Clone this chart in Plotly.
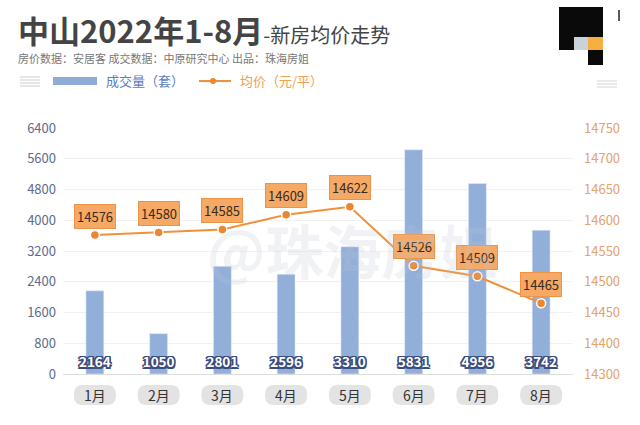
import plotly.graph_objects as go

months = ["1月", "2月", "3月", "4月", "5月", "6月", "7月", "8月"]
volume = [2164, 1050, 2801, 2596, 3310, 5831, 4956, 3742]
price = [14576, 14580, 14585, 14609, 14622, 14526, 14509, 14465]

left_ticks = [0, 800, 1600, 2400, 3200, 4000, 4800, 5600, 6400]
right_tickvals = [14350, 14400, 14450, 14500, 14550, 14600, 14650, 14700, 14750]
right_ticktext = ["14300", "14400", "14450", "14500", "14550", "14600", "14650", "14700", "14750"]

FONT = "Noto Sans CJK SC"
W, H = 640, 425
L, R, T, B = 63, 67, 128, 51
PW, PH = W - L - R, H - T - B


def px(x):
    return (x - L) / PW


def py(y):
    return (H - B - y) / PH


navy = "#3b4c7e"
offs = [(-1.5, -1.5), (-1.5, 0), (-1.5, 1.5), (0, -1.5), (0, 1.5), (1.5, -1.5), (1.5, 0), (1.5, 1.5)]
shadow = ", ".join(f"{dx}px {dy}px 0 {navy}" for dx, dy in offs)

fig = go.Figure()
fig.add_trace(go.Bar(
    x=months, y=volume, marker_color="#91afd9", width=0.28,
    text=[str(v) for v in volume], textposition="inside", insidetextanchor="start",
    textangle=0, constraintext="none",
    textfont=dict(family=FONT, size=13.5, color="white", weight="bold", shadow=shadow),
    cliponaxis=False, hoverinfo="skip", showlegend=False,
))
fig.add_trace(go.Scatter(
    x=months, y=price, yaxis="y2", mode="lines+markers",
    line=dict(color="#f0913a", width=2),
    marker=dict(size=9, color="#ee8530", line=dict(color="white", width=1.5)),
    showlegend=False, cliponaxis=False,
))

shapes = []


def prect(x0, y0, x1, y1, color):
    shapes.append(dict(type="rect", xref="paper", yref="paper", x0=px(x0), x1=px(x1),
                       y0=py(y1), y1=py(y0), fillcolor=color, line=dict(width=0), layer="above"))


def pline(x0, y0, x1, y1, color, w):
    shapes.append(dict(type="line", xref="paper", yref="paper", x0=px(x0), x1=px(x1),
                       y0=py(y0), y1=py(y1), line=dict(color=color, width=w)))


def pill_path(w, h, r):
    a, b = w / 2, h / 2
    return (f"M {-a + r},{-b} L {a - r},{-b} Q {a},{-b} {a},{-b + r} L {a},{b - r} "
            f"Q {a},{b} {a - r},{b} L {-a + r},{b} Q {-a},{b} {-a},{b - r} "
            f"L {-a},{-b + r} Q {-a},{-b} {-a + r},{-b} Z")


ann = []
for m, p in zip(months, price):
    ann.append(dict(x=m, y=p, xref="x", yref="y2", text=str(p), showarrow=False,
                    yshift=19, font=dict(family=FONT, size=13, color="#3a2a20"),
                    bgcolor="#f6a964", bordercolor="#ec9344", borderwidth=1, borderpad=2))
for m in months:
    shapes.append(dict(type="path", xref="x", yref="paper", xsizemode="pixel", ysizemode="pixel",
                       xanchor=m, yanchor=py(395), path=pill_path(42, 20, 9),
                       fillcolor="#e3e3e3", line=dict(width=0), layer="below"))
    ann.append(dict(x=m, y=py(395), xref="x", yref="paper", text=m, showarrow=False,
                    font=dict(family=FONT, size=14, color="#333333"), yanchor="middle"))

# watermark
ann.append(dict(x=px(352), y=py(205), xref="paper", yref="paper", text="@珠海房姐", showarrow=False,
                font=dict(family=FONT, size=58, color="rgba(190,198,210,0.22)", weight="bold")))
# titles
ann.append(dict(x=px(16), y=py(30), xref="paper", yref="paper", xanchor="left", yanchor="middle",
                text="<b>中山2022年1-8月</b><span style='font-size:20px'>-新房均价走势</span>",
                showarrow=False, font=dict(family=FONT, size=31, color="#444444")))
ann.append(dict(x=px(16), y=py(58), xref="paper", yref="paper", xanchor="left", yanchor="middle",
                text="房价数据：安居客 成交数据：中原研究中心 出品：珠海房姐", showarrow=False,
                font=dict(family=FONT, size=11, color="#777777")))
ann.append(dict(x=px(104), y=py(81), xref="paper", yref="paper", xanchor="left", yanchor="middle",
                text="成交量（套）", showarrow=False, font=dict(family=FONT, size=13, color="#5b7cc0")))
ann.append(dict(x=px(238), y=py(81), xref="paper", yref="paper", xanchor="left", yanchor="middle",
                text="均价（元/平）", showarrow=False, font=dict(family=FONT, size=13, color="#f0a050")))

for yy in (77, 80, 83, 86):
    pline(20, yy, 40, yy, "#cccccc", 1)
for yy in (81, 84, 87):
    pline(597, yy, 617, yy, "#d5d5d5", 1)
prect(53, 77, 97, 85, "#8fabd8")
pline(199, 81, 231, 81, "#f0913a", 2)
shapes.append(dict(type="circle", xref="paper", yref="paper", x0=px(210), x1=px(216),
                   y0=py(84), y1=py(78), fillcolor="#ee8530", line=dict(width=0)))
# top-right icon blocks
prect(559, 7, 603, 37, "#0a0a0a")
prect(559, 37, 574, 50, "#0a0a0a")
prect(574, 37, 588, 50, "#c9d1d9")
prect(588, 37, 603, 50, "#f5b041")
prect(588, 50, 603, 65, "#0a0a0a")
pline(619, 10, 619, 21, "#222222", 1.5)

fig.update_layout(
    width=W, height=H, margin=dict(l=L, r=R, t=T, b=B),
    plot_bgcolor="white", paper_bgcolor="white",
    font=dict(family=FONT),
    xaxis=dict(type="category", showticklabels=False, showgrid=False, zeroline=False,
               showline=False, ticks=""),
    yaxis=dict(range=[0, 6400], tickvals=left_ticks, showgrid=True, gridcolor="#f1f1f1",
               zeroline=True, zerolinecolor="#dddddd", zerolinewidth=1,
               tickfont=dict(family=FONT, size=13, color="#5d6b8c"), ticklabelstandoff=6),
    yaxis2=dict(range=[14350, 14750], overlaying="y", side="right", tickvals=right_tickvals,
                ticktext=right_ticktext, showgrid=False, zeroline=False,
                tickfont=dict(family=FONT, size=13, color="#e3a36e"), ticklabelstandoff=10),
    annotations=ann, shapes=shapes, bargap=0.7,
)

fig.write_html("out.html", config={"displayModeBar": False},
               post_script="document.body.style.margin='0';document.body.style.padding='0';")
